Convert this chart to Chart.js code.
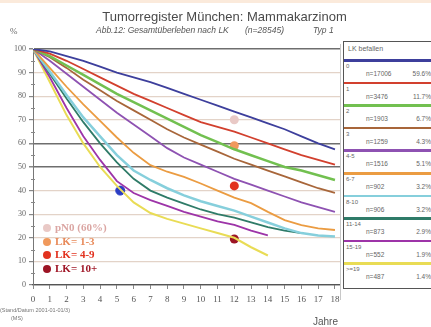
<!DOCTYPE html>
<html>
<head>
<meta charset="utf-8">
<script src="https://cdn.jsdelivr.net/npm/chart.js@4.4.1/dist/chart.umd.min.js"></script>
<style>
body { margin: 0; background: #fff; }
#page { position: relative; width: 431px; height: 327px; overflow: hidden; font-family: "Liberation Sans", Arial, sans-serif; }
#page canvas { position: absolute; left: 0; top: 0; }
.txt { position: absolute; white-space: nowrap; color: #555; }
#lkbox { position: absolute; left: 343px; top: 41px; width: 100px; height: 246px; border: 1px solid #555; background: #fff; }
#lkbox .head { position: absolute; left: 4px; top: 3px; font-size: 7px; color: #666; }
#lkbox .row { position: absolute; left: 0; width: 100px; height: 22px; }
#lkbox .bar { position: absolute; left: 0; top: 0; width: 100px; height: 2.5px; }
#lkbox .lab { position: absolute; left: 2px; top: 4px; font-size: 6px; color: #666; }
#lkbox .n { position: absolute; left: 22px; top: 11px; font-size: 6.5px; color: #666; }
#lkbox .p { position: absolute; left: 62px; width: 25px; top: 11px; font-size: 6.5px; color: #666; text-align: right; }
.mk { position: absolute; font-family: "Liberation Serif", serif; font-weight: bold; font-size: 11px; white-space: nowrap; }
.mk span { display: inline-block; width: 8px; height: 8px; border-radius: 50%; margin-right: 4px; vertical-align: -1px; }
.sub { position: absolute; top: 25px; font-size: 8.5px; font-style: italic; color: #555; white-space: nowrap; }
</style>
</head>
<body>
<div id="page">
  <canvas id="km" width="431" height="327"></canvas>
  <div class="txt" style="left:0;top:0;width:431px;height:3px;background:#fbeadb"></div>
  <div class="txt" style="left:9px;width:431px;top:9px;text-align:center;font-size:13px;color:#4a4a4a">Tumorregister München: Mammakarzinom</div>
  <div class="sub" style="left:96px">Abb.12: Gesamtüberleben nach LK</div>
  <div class="sub" style="left:245px">(n=28545)</div>
  <div class="sub" style="left:313px">Typ 1</div>
  <div class="txt" style="left:10px;top:26px;font-size:9px;font-family:'Liberation Serif',serif;color:#666">%</div>
  <div class="txt" style="left:313px;top:316px;font-size:10px;color:#555">Jahre</div>
  <div class="txt" style="left:0;top:307px;font-size:5.5px;color:#777">(Stand/Datum 2001-01-01/3)</div>
  <div class="txt" style="left:11px;top:315px;font-size:5.5px;color:#777">(MS)</div>
  <div id="lkbox"><div class="head">LK befallen</div></div>
  <div id="marks"></div>
</div>
<script>
const years = [0, 1, 2, 3, 4, 5, 6, 7, 8, 9, 10, 11, 12, 13, 14, 15, 16, 17, 18];
const yTicks = [0, 10, 20, 30, 40, 50, 60, 70, 80, 90, 100];

const lk0    = [100, 99, 97, 95, 92.5, 90, 88, 86, 83.5, 81, 78.5, 76, 73.5, 71, 68.5, 66, 63, 60, 57.5];
const lk1    = [100, 98, 95, 91.5, 88, 84.5, 81, 78, 75, 72, 69, 67, 65, 62.5, 60, 57.5, 55, 53, 51];
const lk2    = [100, 97, 93, 89, 85, 81, 77.5, 74, 70.5, 67, 63.5, 60.5, 57.5, 55, 52.5, 50, 48.5, 46.5, 44.5];
const lk3    = [100, 96.5, 92, 87, 82.5, 78, 74, 70, 66, 62.5, 59.5, 56.5, 53.5, 51, 48.5, 46, 43.5, 41, 39];
const lk4_5  = [100, 95, 89.5, 84, 78.5, 73, 68, 63, 58, 54, 51, 48, 45, 42.5, 40, 37.5, 35, 33, 31];
const lk6_7  = [100, 92, 84, 76.5, 69.5, 62.5, 56, 50.8, 48, 45.8, 43, 40, 37, 34.7, 31, 27.5, 25.4, 24, 23.3];
const lk8_10 = [100, 90.5, 80.5, 71, 63, 55, 48.5, 44.5, 41, 38, 35.5, 33.5, 31.5, 29, 26.5, 24, 22, 21, 20.5];
const lk11_14 = [100, 89.5, 79, 69, 60, 52, 45, 40, 37, 34.5, 32, 30, 28.5, 26.5, 24.5, 23, 22, null, null];
const lk15_19 = [100, 88, 75, 63, 53, 44, 39, 36, 33.5, 31, 29, 27, 25.5, 23, 21, null, null, null, null];
const lk19   = [100, 86, 72, 60, 50, 42, 35, 30.5, 28, 26, 24, 22, 20, 16, 12.5, null, null, null, null];

const groupLabels = ['0', '1', '2', '3', '4-5', '6-7', '8-10', '11-14', '15-19', '>=19'];
const groupN = ['n=17006', 'n=3476', 'n=1903', 'n=1259', 'n=1516', 'n=902', 'n=906', 'n=873', 'n=552', 'n=487'];
const groupPct = ['59.6%', '11.7%', '6.7%', '4.3%', '5.1%', '3.2%', '3.2%', '2.9%', '1.9%', '1.4%'];
const groupColors = ['#3d3f9c', '#d2402e', '#72c050', '#a8663a', '#8e52b2', '#eb9c42', '#86cfdc', '#2f7b68', '#9d34a8', '#e9dc55'];
const groupWidths = [1.8, 1.8, 2.5, 1.8, 1.8, 1.8, 2.5, 1.8, 1.8, 2];
const groupSeries = [lk0, lk1, lk2, lk3, lk4_5, lk6_7, lk8_10, lk11_14, lk15_19, lk19];

const markNames = ['pN0 (60%)', 'LK= 1-3', 'LK= 4-9', 'LK= 10+'];
const markYears = [12, 12, 12, 12];
const markValues = [70, 59, 42, 19.5];
const markColors = ['#e9c9c6', '#f0995c', '#e2321f', '#9c1424'];
const markTextColors = ['#dba6a3', '#e88a5a', '#e2321f', '#a01828'];
const blueYear = 5.2;
const blueValue = 40;

// LK legend box on the right
const box = document.getElementById('lkbox');
groupLabels.forEach((lab, i) => {
  const row = document.createElement('div');
  row.className = 'row';
  row.style.top = (17 + i * 22.6) + 'px';
  row.innerHTML = '<div class="bar" style="background:' + groupColors[i] + '"></div>' +
    '<div class="lab">' + lab + '</div><div class="n">' + groupN[i] + '</div><div class="p">' + groupPct[i] + '</div>';
  box.appendChild(row);
});

// marker legend inside the plot
const marks = document.getElementById('marks');
markNames.forEach((name, i) => {
  const d = document.createElement('div');
  d.className = 'mk';
  d.style.left = '43px';
  d.style.top = (221 + i * 13.7) + 'px';
  d.style.color = markTextColors[i];
  d.innerHTML = '<span style="background:' + markColors[i] + '"></span>' + name;
  marks.appendChild(d);
});

const strongLines = [100, 60, 50];

const datasets = groupSeries.map((s, i) => ({
  label: groupLabels[i],
  data: s.map((v, k) => ({ x: years[k], y: v })),
  borderColor: groupColors[i],
  borderWidth: groupWidths[i],
  pointRadius: 0,
  tension: 0,
  spanGaps: false
}));
datasets.push({
  label: 'marks',
  data: markYears.map((x, i) => ({ x: x, y: markValues[i] })),
  showLine: false,
  pointRadius: 4.5,
  pointBackgroundColor: markColors,
  pointBorderColor: markColors,
  borderWidth: 0
});
datasets.push({
  label: 'blue',
  data: [{ x: blueYear, y: blueValue }],
  showLine: false,
  pointRadius: 4.5,
  pointBackgroundColor: '#2b3ec4',
  pointBorderColor: '#2b3ec4'
});

const frame = {
  id: 'frame',
  afterDraw(chart) {
    const c = chart.ctx, a = chart.chartArea;
    c.save();
    c.strokeStyle = '#c8c8c8';
    c.lineWidth = 1;
    c.beginPath();
    c.moveTo(a.right + 0.5, 44);
    c.lineTo(a.right + 0.5, 300);
    c.stroke();
    // minor ticks on the y axis
    const ys = chart.scales.y;
    c.strokeStyle = '#888';
    for (let v = 5; v < 100; v += 10) {
      const py = Math.round(ys.getPixelForValue(v)) + 0.5;
      c.beginPath();
      c.moveTo(a.left - 2, py);
      c.lineTo(a.left + 2, py);
      c.stroke();
    }
    c.restore();
  }
};

new Chart(document.getElementById('km'), {
  type: 'line',
  data: { datasets: datasets },
  options: {
    responsive: false,
    animation: false,
    layout: { padding: { left: 0, top: 49, right: 91, bottom: 0 } },
    plugins: { legend: { display: false }, tooltip: { enabled: false } },
    scales: {
      x: {
        type: 'linear',
        min: 0,
        max: 18.3,
        afterBuildTicks: s => { s.ticks = years.map(v => ({ value: v })); },
        afterFit: s => { s.height = 42; },
        grid: { drawOnChartArea: false, drawTicks: true, tickLength: 4, color: '#888' },
        border: { color: '#555', width: 1.2 },
        ticks: { font: { family: 'Liberation Serif', size: 9 }, color: '#555', padding: 5, maxRotation: 0, autoSkip: false }
      },
      y: {
        min: 0,
        max: 100,
        afterBuildTicks: s => { s.ticks = yTicks.map(v => ({ value: v })); },
        afterFit: s => { s.width = 33; },
        grid: {
          color: ctx => strongLines.includes(ctx.tick.value) ? '#6e6e6e' : (ctx.tick.value === 0 ? '#555' : '#e3d3c8'),
          lineWidth: ctx => strongLines.includes(ctx.tick.value) ? 1.5 : 1.2,
          tickColor: '#888',
          tickLength: 4
        },
        border: { color: '#777', width: 1 },
        ticks: { font: { family: 'Liberation Serif', size: 8 }, color: '#666', padding: 3 }
      }
    }
  },
  plugins: [frame]
});
</script>
</body>
</html>
